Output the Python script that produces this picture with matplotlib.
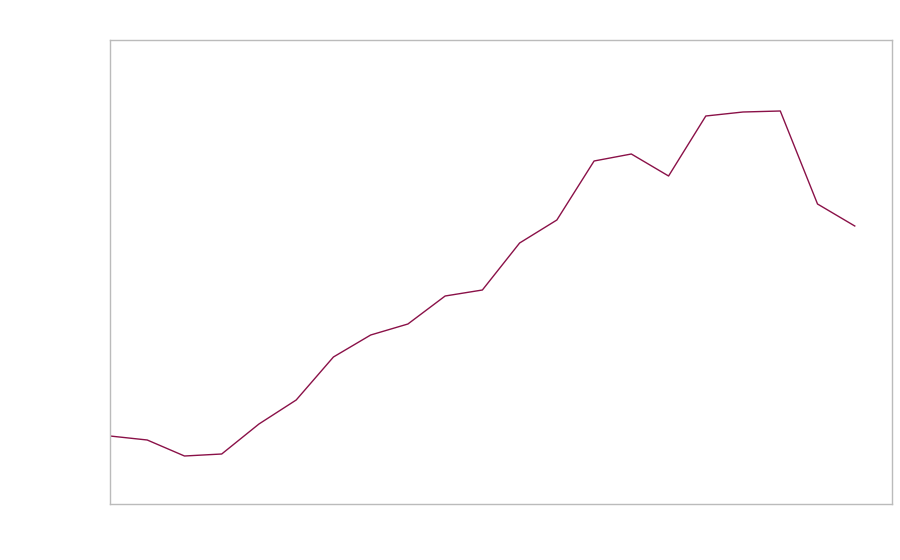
import matplotlib
matplotlib.use("Agg")
import matplotlib.pyplot as plt

# Index of each observation (no labels shown in the reference)
periods = list(range(21))
values = [68, 64, 48, 50, 80, 104, 147, 169, 180, 208, 214, 261, 284,
          343, 350, 328, 388, 392, 393, 300, 278]

fig = plt.figure(figsize=(9, 5.6), dpi=100)
ax = fig.add_axes([110/900, 56/560, 782/900, 464/560])
ax.plot(periods, values, color="#8a1148", linewidth=1.0)
ax.set_xlim(0, 21)
ax.set_ylim(0, 464)
ax.set_xticks([])
ax.set_yticks([])
for s in ax.spines.values():
    s.set_color("#bbbbbb")
    s.set_linewidth(1.0)
fig.savefig("out.png", dpi=100)
